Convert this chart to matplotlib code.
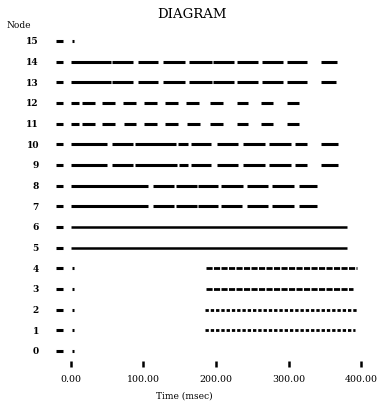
import matplotlib
matplotlib.use("Agg")
import matplotlib.pyplot as plt

plt.rcParams['font.family'] = ['DejaVu Serif']

node_ids = list(range(16))
x_ticks = [0, 100, 200, 300, 400]
x_labels = ["0.00", "100.00", "200.00", "300.00", "400.00"]

# every row starts with a short dash before t=0
lead_dash = (-20, -10)
# small mark right after t=0 on the idle rows
start_mark = (2, 5)
idle_nodes = [0, 1, 2, 3, 4, 15]

# busy intervals (msec)
busy_14 = [(0, 56), (57, 86), (93, 120), (127, 157), (163, 195), (196, 225),
           (229, 258), (263, 292), (298, 326), (344, 366)]
busy_13 = [(0, 56), (57, 86), (93, 120), (127, 157), (163, 195), (196, 225),
           (229, 258), (263, 292), (298, 326), (344, 365)]
busy_12 = [(0, 12), (16, 34), (43, 61), (72, 90), (101, 119), (130, 148),
           (159, 177), (192, 210), (229, 244), (262, 278), (298, 314)]
busy_11 = [(0, 12), (16, 34), (43, 61), (73, 90), (101, 119), (130, 148),
           (160, 178), (192, 210), (229, 244), (262, 279), (298, 314)]
busy_10 = [(0, 50), (57, 86), (89, 145), (148, 162), (166, 193), (201, 230),
           (237, 267), (273, 303), (309, 325), (344, 368)]
busy_9 = [(0, 50), (57, 86), (89, 146), (149, 162), (166, 193), (201, 230),
          (237, 267), (273, 303), (309, 325), (344, 368)]
busy_8 = [(0, 106), (113, 142), (145, 174), (175, 203), (207, 237),
          (243, 272), (277, 307), (314, 339)]
busy_7 = [(0, 106), (113, 142), (145, 174), (175, 203), (207, 236),
          (243, 272), (277, 307), (314, 339)]
busy_6 = [(0, 380)]
busy_5 = [(0, 380)]
# late activity on the low nodes, drawn as fine dotted traces
late_4 = (186, 394)
late_3 = (186, 388)
late_2 = (185, 395)
late_1 = (185, 392)

solid_rows = {14: busy_14, 13: busy_13, 12: busy_12, 11: busy_11,
              10: busy_10, 9: busy_9, 8: busy_8, 7: busy_7,
              6: busy_6, 5: busy_5}

fig = plt.figure(figsize=(3.8, 4.03), dpi=100)
ax = fig.add_axes([48 / 380, 42 / 403, 322 / 380, 331 / 403])

for n in node_ids:
    ax.hlines(n, lead_dash[0], lead_dash[1], colors="black", lw=2.2)

for n in idle_nodes:
    ax.hlines(n, start_mark[0], start_mark[1], colors="black", lw=2.2)

for n, segs in solid_rows.items():
    lw = 1.8 if n in (5, 6) else 2.2
    for a, b in segs:
        ax.hlines(n, a, b, colors="black", lw=lw)

ax.plot(late_4, [4, 4], color="black", lw=2.0, ls=(0, (2.2, 0.5)))
ax.plot(late_3, [3, 3], color="black", lw=2.0, ls=(0, (2.2, 0.5)))
ax.plot(late_2, [2, 2], color="black", lw=2.0, ls=(0, (1.2, 0.7)))
ax.plot(late_1, [1, 1], color="black", lw=2.0, ls=(0, (1.2, 0.7)))

ax.set_xlim(-31, 412)
ax.set_ylim(-0.484, 15.53)
for s in ax.spines.values():
    s.set_visible(False)

ax.set_xticks(x_ticks)
ax.set_xticklabels(x_labels, fontsize=6.8)
ax.tick_params(axis="x", length=4.3, width=1.8, direction="out", pad=5.5)
ax.set_yticks(node_ids)
ax.set_yticklabels([str(n) for n in node_ids], fontsize=6.5, fontweight="bold")
ax.tick_params(axis="y", length=0, pad=6.5)

fig.text(192 / 380, 1 - 14 / 403, "DIAGRAM", ha="center", va="center", fontsize=9.5)
fig.text(19 / 380, 1 - 26 / 403, "Node", ha="center", va="center", fontsize=6.5)
fig.text(184 / 380, 1 - 396 / 403, "Time (msec)", ha="center", va="center", fontsize=6.5)

fig.savefig("out.png", dpi=100)
